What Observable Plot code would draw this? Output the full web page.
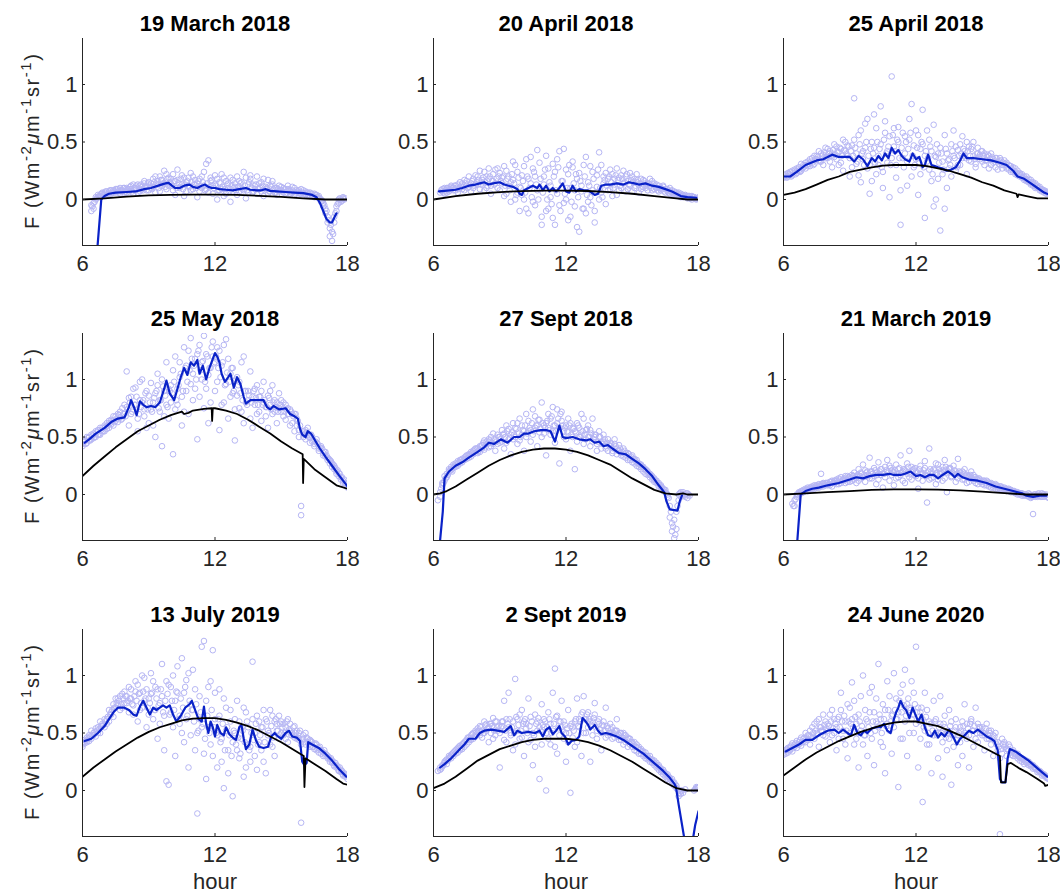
<!DOCTYPE html>
<html>
<head>
<meta charset="utf-8">
<script src="https://cdn.jsdelivr.net/npm/d3@7"></script>
<script src="https://cdn.jsdelivr.net/npm/@observablehq/plot@0.6"></script>
<style>
  body { margin: 0; background: #ffffff; }
  #figure { position: relative; width: 1060px; height: 896px; overflow: hidden; background: #ffffff; }
  #figure svg { position: absolute; background: transparent; }
</style>
</head>
<body>
<div id="figure"></div>
<script>
// Panel titles (one per day), in reading order
const panelTitles = [
  "19 March 2018", "20 April 2018", "25 April 2018",
  "25 May 2018", "27 Sept 2018", "21 March 2019",
  "13 July 2019", "2 Sept 2019", "24 June 2020"
];

const xTicks = [6, 12, 18];
const yTicks = [0, 0.5, 1];
const xDomain = [6, 18];
const yDomain = [-0.4, 1.4];

// y-axis label pieces: [text, superscript?, italic?]
const yLabelParts = [["F (Wm", false, false], ["-2", true, false], ["\u03bc", false, true], ["m", false, false],
  ["-1", true, false], ["sr", false, false], ["-1", true, false], [")", false, false]];

// Sample hours for the first two sample sets
const scatterHours = [
  6.0, 6.1, 6.2, 6.3, 6.4, 6.5, 6.6, 6.7, 6.8, 6.9,
  7.0, 7.1, 7.2, 7.3, 7.4, 7.5, 7.6, 7.7, 7.8, 7.9,
  8.0, 8.1, 8.2, 8.3, 8.4, 8.5, 8.6, 8.7, 8.8, 8.9,
  9.0, 9.1, 9.2, 9.3, 9.4, 9.5, 9.6, 9.7, 9.8, 9.9,
  10.0, 10.1, 10.2, 10.3, 10.4, 10.5, 10.6, 10.7, 10.8, 10.9,
  11.0, 11.1, 11.2, 11.3, 11.4, 11.5, 11.6, 11.7, 11.8, 11.9,
  12.0, 12.1, 12.2, 12.3, 12.4, 12.5, 12.6, 12.7, 12.8, 12.9,
  13.0, 13.1, 13.2, 13.3, 13.4, 13.5, 13.6, 13.7, 13.8, 13.9,
  14.0, 14.1, 14.2, 14.3, 14.4, 14.5, 14.6, 14.7, 14.8, 14.9,
  15.0, 15.1, 15.2, 15.3, 15.4, 15.5, 15.6, 15.7, 15.8, 15.9,
  16.0, 16.1, 16.2, 16.3, 16.4, 16.5, 16.6, 16.7, 16.8, 16.9,
  17.0, 17.1, 17.2, 17.3, 17.4, 17.5, 17.6, 17.7, 17.8, 17.9,
  18.0
];

// Sample hours for the third sample set (between the others)
const scatterHoursC = [
  6.05, 6.15, 6.25, 6.35, 6.45, 6.55, 6.65, 6.75, 6.85, 6.95,
  7.05, 7.15, 7.25, 7.35, 7.45, 7.55, 7.65, 7.75, 7.85, 7.95,
  8.05, 8.15, 8.25, 8.35, 8.45, 8.55, 8.65, 8.75, 8.85, 8.95,
  9.05, 9.15, 9.25, 9.35, 9.45, 9.55, 9.65, 9.75, 9.85, 9.95,
  10.05, 10.15, 10.25, 10.35, 10.45, 10.55, 10.65, 10.75, 10.85, 10.95,
  11.05, 11.15, 11.25, 11.35, 11.45, 11.55, 11.65, 11.75, 11.85, 11.95,
  12.05, 12.15, 12.25, 12.35, 12.45, 12.55, 12.65, 12.75, 12.85, 12.95,
  13.05, 13.15, 13.25, 13.35, 13.45, 13.55, 13.65, 13.75, 13.85, 13.95,
  14.05, 14.15, 14.25, 14.35, 14.45, 14.55, 14.65, 14.75, 14.85, 14.95,
  15.05, 15.15, 15.25, 15.35, 15.45, 15.55, 15.65, 15.75, 15.85, 15.95,
  16.05, 16.15, 16.25, 16.35, 16.45, 16.55, 16.65, 16.75, 16.85, 16.95,
  17.05, 17.15, 17.25, 17.35, 17.45, 17.55, 17.65, 17.75, 17.85, 17.95
];

// Retrieved F samples, first set (one array per panel, aligned with scatterHours)
const scatterA = [
  [null,null,null,null,-0.05,-0.08,0.0,0.02,0.03,0.05,
   0.06,0.04,0.07,0.05,0.08,0.06,0.09,0.05,0.07,0.1,
   0.06,0.09,0.12,0.05,0.1,0.13,0.07,0.11,0.14,0.08,
   0.15,0.1,0.18,0.06,0.16,0.2,0.12,0.25,0.09,0.19,
   0.14,0.22,0.04,0.17,0.11,0.21,0.03,0.15,0.19,0.08,
   0.2,0.13,0.02,0.18,0.1,0.24,0.31,0.06,0.16,0.12,
   0.21,0.0,0.15,0.09,0.19,0.05,0.14,-0.02,0.17,0.11,
   0.2,0.07,0.15,0.24,0.01,0.13,0.18,0.06,0.12,0.2,
   0.09,0.15,0.03,0.11,0.17,0.07,0.13,0.1,0.04,0.12,
   0.08,0.1,0.05,0.09,0.07,0.11,0.04,0.08,0.06,0.09,
   0.05,0.07,0.04,0.06,0.03,0.05,0.02,0.03,0.0,-0.03,
   -0.08,-0.15,-0.25,-0.36,-0.2,-0.1,-0.03,0.0,0.01,null,
   null],
  [null,null,null,0.06,0.09,0.05,0.1,0.07,0.11,0.08,
   0.12,0.06,0.1,0.14,0.08,0.16,0.11,0.07,0.18,0.13,
   0.2,0.09,0.15,0.24,0.1,0.18,0.05,0.22,0.14,0.27,
   0.08,0.19,0.03,0.25,0.12,-0.02,0.17,0.3,0.06,-0.1,
   0.21,0.0,0.35,-0.12,0.14,0.27,-0.05,0.43,0.09,-0.15,
   0.2,0.38,-0.08,0.12,0.31,-0.22,0.05,0.42,0.16,-0.03,
   0.26,-0.18,0.1,0.33,-0.06,0.18,-0.28,0.07,0.3,-0.12,
   0.15,0.02,0.24,-0.2,0.11,0.41,0.06,0.2,-0.04,0.18,
   0.09,0.22,0.13,0.04,0.19,0.1,0.25,0.07,0.16,0.12,
   0.2,0.1,0.15,0.06,0.18,0.11,0.14,0.08,0.12,0.16,
   0.09,0.13,0.07,0.1,0.12,0.06,0.09,0.05,0.08,0.04,
   0.06,0.03,0.05,0.02,0.04,0.01,0.03,0.0,0.02,0.01,
   0.02],
  [0.19,0.22,0.2,0.24,0.21,0.26,0.23,0.28,0.25,0.3,
   0.27,0.33,0.29,0.36,0.31,0.38,0.34,0.4,0.3,0.45,
   0.36,0.42,0.28,0.48,0.35,0.3,0.44,0.25,0.5,0.38,
   0.2,0.47,0.88,0.31,0.56,0.15,0.42,0.66,0.27,0.05,
   0.5,0.74,0.22,0.38,0.81,0.1,0.58,0.32,0.02,1.07,
   0.46,0.19,0.63,-0.22,0.36,0.55,0.12,0.7,0.83,0.28,
   0.6,0.04,0.44,0.78,-0.16,0.33,0.52,0.16,0.65,0.0,
   0.4,-0.27,0.22,0.56,0.1,0.35,0.48,0.6,0.25,0.43,
   0.3,0.55,0.38,0.22,0.46,0.33,0.5,0.28,0.4,0.35,
   0.42,0.3,0.37,0.27,0.4,0.32,0.36,0.26,0.33,0.3,
   0.34,0.27,0.3,0.24,0.28,0.22,0.25,0.2,0.22,0.17,
   0.2,0.15,0.17,0.12,0.14,0.1,0.11,0.07,0.08,0.05,
   0.05],
  [0.44,0.47,0.45,0.5,0.48,0.53,0.5,0.56,0.52,0.58,
   0.55,0.62,0.58,0.65,0.6,0.68,0.63,0.72,0.66,0.78,
   1.07,0.6,0.85,0.74,0.93,0.55,0.82,1.0,0.68,0.9,
   0.62,0.97,0.8,0.5,1.05,0.72,0.42,0.9,1.15,0.66,
   0.95,0.35,1.2,0.78,1.02,0.6,1.28,0.9,0.7,1.36,
   0.82,1.18,0.48,1.3,1.0,0.75,1.22,0.62,1.1,1.33,
   0.9,1.28,0.56,1.12,0.8,1.35,0.66,1.05,0.88,0.47,
   1.02,0.75,1.15,0.62,0.9,0.82,1.07,0.58,0.92,0.7,
   0.85,0.64,0.98,0.76,0.58,0.9,0.7,0.82,0.62,0.88,
   0.72,0.8,0.65,0.75,0.6,0.7,0.55,0.66,0.5,-0.1,
   0.55,0.48,0.58,0.5,0.46,0.44,0.48,0.4,0.42,0.36,
   0.37,0.32,0.3,0.27,0.25,0.2,0.19,0.15,0.12,0.1,
   0.06],
  [null,null,-0.05,0.02,0.08,0.12,0.18,0.2,0.24,0.23,
   0.27,0.25,0.3,0.28,0.32,0.31,0.35,0.33,0.38,0.36,
   0.4,0.37,0.43,0.39,0.46,0.41,0.5,0.44,0.38,0.52,
   0.45,0.56,0.4,0.6,0.48,0.35,0.62,0.5,0.44,0.66,
   0.52,0.38,0.7,0.55,0.46,0.74,0.58,0.42,0.65,0.5,
   0.6,0.34,0.7,0.52,0.76,0.45,0.62,0.27,0.72,0.55,
   0.48,0.66,0.38,0.58,0.22,0.62,0.5,0.7,0.44,0.56,
   0.6,0.42,0.66,0.5,0.38,0.55,0.46,0.52,0.4,0.48,
   0.45,0.36,0.48,0.4,0.43,0.34,0.4,0.32,0.36,0.3,
   0.34,0.27,0.3,0.24,0.26,0.2,0.22,0.17,0.18,0.13,
   0.14,0.1,0.1,0.06,0.05,0.02,-0.02,-0.1,-0.25,-0.38,
   -0.3,-0.05,0.02,0.0,-0.02,0.01,-0.01,null,null,null,
   null],
  [null,null,null,null,-0.08,-0.05,-0.02,0.02,0.01,0.04,
   0.03,0.06,0.04,0.07,0.05,0.08,0.06,0.18,0.07,0.1,
   0.08,0.11,0.07,0.12,0.09,0.14,0.1,0.13,0.16,0.11,
   0.15,0.12,0.19,0.1,0.22,0.14,0.26,0.11,0.2,0.32,
   0.14,0.23,0.09,0.28,0.17,0.06,0.24,0.3,0.12,0.21,
   0.08,0.26,0.15,0.34,0.2,0.1,0.27,0.38,0.13,0.22,
   0.16,0.05,0.25,0.18,0.29,-0.07,0.4,0.14,0.22,0.09,
   0.26,0.18,0.12,0.3,0.02,0.22,0.16,0.25,0.11,0.31,
   0.19,0.13,0.22,0.1,0.16,0.2,0.12,0.15,0.09,0.13,
   0.11,0.08,0.12,0.07,0.1,0.06,0.09,0.05,0.07,0.04,
   0.06,0.03,0.05,0.02,0.03,0.01,0.02,0.0,0.01,-0.01,
   0.0,-0.02,-0.01,-0.17,0.0,-0.02,-0.01,0.01,-0.02,0.0,
   -0.03],
  [0.4,0.44,0.42,0.48,0.45,0.5,0.47,0.55,0.5,0.58,
   0.55,0.62,0.6,0.68,0.64,0.72,0.8,0.7,0.84,0.76,
   0.82,0.68,0.88,0.74,0.95,0.6,0.85,0.72,0.98,0.55,
   0.8,1.02,0.62,0.9,0.45,0.76,1.1,0.35,0.08,0.92,
   0.68,1.0,0.3,0.85,0.58,1.15,0.42,0.96,0.2,0.75,
   1.05,0.35,-0.2,0.82,0.55,1.3,0.1,0.9,0.4,1.22,
   0.62,0.2,0.88,0.45,0.02,0.72,0.35,0.6,-0.05,0.5,
   0.78,0.28,0.55,0.12,0.68,0.4,0.25,1.12,0.5,0.18,
   0.6,0.35,0.7,0.15,0.52,0.4,0.65,0.3,0.58,0.45,
   0.6,0.48,0.55,0.42,0.58,0.5,0.46,0.52,0.44,-0.28,
   0.48,0.4,0.45,0.38,0.42,0.36,0.4,0.33,0.35,0.3,
   0.32,0.28,0.27,0.24,0.22,0.2,0.18,0.16,0.14,0.12,
   0.1],
  [null,null,0.17,0.2,0.22,0.25,0.27,0.3,0.28,0.33,
   0.32,0.37,0.35,0.4,0.38,0.44,0.42,0.48,0.45,0.52,
   0.5,0.56,0.46,0.6,0.52,0.42,0.58,0.63,0.48,0.55,
   0.2,0.6,0.78,0.42,0.85,0.5,0.35,0.97,0.62,0.45,
   0.7,0.3,0.58,0.8,0.44,0.22,0.66,0.52,0.1,0.75,
   0.55,0.0,0.68,0.4,0.85,1.06,0.32,0.6,0.78,0.45,
   0.25,0.7,-0.02,0.55,0.38,0.8,0.62,0.3,0.82,0.5,
   0.68,0.25,0.6,0.76,0.45,0.62,0.35,0.56,0.72,0.48,
   0.58,0.45,0.52,0.62,0.44,0.5,0.4,0.48,0.38,0.45,
   0.42,0.35,0.4,0.32,0.36,0.3,0.33,0.27,0.3,0.24,
   0.26,0.2,0.22,0.16,0.18,0.12,0.14,0.08,0.1,0.04,
   0.02,-0.05,0.0,-0.02,0.01,null,null,null,0.0,0.03,
   0.02],
  [0.31,0.35,0.33,0.38,0.34,0.4,0.37,0.42,0.39,0.45,
   0.42,0.48,0.4,0.55,0.45,0.6,0.38,0.52,0.66,0.47,
   0.58,0.42,0.7,0.5,0.35,0.64,0.85,0.45,0.6,0.28,
   0.72,0.94,0.4,0.58,0.2,0.82,1.0,0.48,0.3,0.68,
   0.9,0.22,0.6,1.1,0.42,0.75,0.15,0.95,0.52,0.32,
   1.02,0.62,0.03,0.85,0.45,1.05,0.3,0.72,0.95,0.5,
   1.25,0.2,0.68,-0.1,0.85,0.4,0.6,0.15,0.78,0.5,
   0.28,0.82,0.12,0.55,0.35,0.7,0.05,0.48,0.62,0.22,
   0.55,0.3,0.75,0.45,0.2,0.6,0.38,0.72,0.42,0.55,
   0.48,0.35,0.58,0.45,0.52,0.3,0.5,0.42,-0.38,0.45,
   0.38,0.3,0.35,0.33,0.3,0.32,0.28,0.29,0.25,0.27,
   0.24,0.25,0.21,0.22,0.19,0.18,0.16,0.15,0.13,0.12,
   0.1]
];

// Retrieved F samples, second set (aligned with scatterHours)
const scatterB = [
  [null,null,null,null,-0.1,-0.03,0.02,0.04,0.02,0.06,
   0.04,0.07,0.05,0.08,0.06,0.09,0.07,0.1,0.08,0.06,
   0.1,0.07,0.09,0.13,0.08,0.06,0.12,0.09,0.16,0.11,
   0.08,0.14,0.11,0.2,0.13,0.07,0.17,0.14,0.22,0.12,
   0.18,0.08,0.16,0.26,0.1,0.13,0.19,0.07,0.12,0.23,
   0.09,0.17,0.14,0.07,0.2,0.12,0.09,0.34,0.19,0.05,
   0.13,0.18,0.08,0.22,0.03,0.16,0.1,0.19,0.07,0.14,
   0.04,0.16,0.1,0.08,0.19,0.06,0.21,0.13,0.09,0.05,
   0.14,0.07,0.18,0.09,0.05,0.12,0.16,0.06,0.1,0.07,
   0.11,0.06,0.09,0.12,0.05,0.08,0.1,0.06,0.08,0.05,
   0.08,0.04,0.06,0.03,0.05,0.02,0.04,0.01,-0.02,-0.06,
   -0.12,-0.2,-0.32,-0.28,-0.15,-0.06,0.0,-0.02,0.02,0.01,
   null],
  [null,null,null,null,0.07,0.1,0.06,0.09,0.12,0.1,
   0.08,0.13,0.15,0.09,0.17,0.12,0.2,0.14,0.1,0.21,
   0.13,0.25,0.17,0.08,0.2,0.27,0.12,0.16,0.26,0.1,
   0.23,0.14,0.29,0.05,0.2,0.15,0.33,0.0,0.24,0.11,
   0.04,0.29,-0.08,0.18,0.37,-0.02,0.2,0.08,0.32,-0.22,
   0.13,-0.1,0.27,0.02,-0.16,0.24,0.35,-0.05,0.1,0.44,
   0.0,0.22,-0.15,0.28,0.08,-0.24,0.23,0.12,-0.08,0.37,
   -0.02,0.29,0.08,-0.1,0.21,0.0,0.3,0.14,0.23,0.08,
   0.26,0.03,0.18,0.27,0.08,0.21,0.14,0.2,0.09,0.23,
   0.07,0.18,0.22,0.13,0.09,0.17,0.1,0.13,0.18,0.08,
   0.14,0.1,0.12,0.08,0.11,0.09,0.07,0.1,0.06,0.07,
   0.04,0.06,0.02,0.04,0.03,0.02,0.01,0.03,0.02,0.0,
   null],
  [null,0.2,0.23,0.21,0.25,0.23,0.27,0.25,0.31,0.28,
   0.32,0.29,0.35,0.32,0.38,0.35,0.42,0.33,0.39,0.36,
   0.44,0.33,0.4,0.37,0.46,0.41,0.32,0.52,0.42,0.47,
   0.36,0.28,0.52,0.4,0.21,0.6,0.35,0.45,0.7,0.3,
   0.16,0.45,0.62,0.3,0.48,0.24,0.68,0.42,0.55,0.36,
   0.62,0.3,0.5,0.08,0.58,0.4,0.33,0.52,0.2,0.47,
   0.35,0.56,0.22,0.48,0.38,0.6,0.26,0.42,-0.06,0.37,
   0.18,0.45,0.33,-0.08,0.4,0.27,0.2,0.38,0.46,0.3,
   0.48,0.36,0.42,0.5,0.34,0.44,0.38,0.31,0.45,0.39,
   0.33,0.4,0.34,0.38,0.3,0.35,0.28,0.33,0.36,0.27,
   0.3,0.32,0.26,0.29,0.24,0.27,0.21,0.23,0.19,0.2,
   0.16,0.18,0.13,0.15,0.1,0.12,0.08,0.09,0.06,0.07,
   null],
  [0.42,0.46,0.5,0.47,0.52,0.49,0.55,0.52,0.58,0.55,
   0.6,0.57,0.64,0.61,0.68,0.64,0.7,0.67,0.75,0.7,
   0.76,0.84,0.7,0.92,0.78,0.66,0.98,0.8,0.74,0.58,
   0.86,0.74,0.6,0.88,0.95,0.82,1.0,0.68,0.78,0.92,
   0.8,1.08,0.74,0.92,1.15,0.85,0.72,1.12,1.25,0.96,
   1.05,0.92,1.22,0.85,1.15,1.38,0.92,1.04,0.8,1.2,
   1.15,0.98,1.25,0.78,1.3,0.96,1.18,0.85,1.1,0.74,
   0.86,0.98,0.72,1.2,0.8,0.9,0.66,0.85,0.78,0.95,
   0.72,0.9,0.8,0.68,0.86,0.78,0.95,0.72,0.8,0.75,
   0.82,0.68,0.78,0.7,0.74,0.62,0.7,0.6,0.56,-0.18,
   0.5,0.56,0.52,0.45,0.5,0.42,0.45,0.38,0.4,0.34,
   0.33,0.3,0.27,0.24,0.22,0.18,0.16,0.13,0.1,0.08,
   null],
  [null,null,null,-0.02,0.1,0.16,0.15,0.22,0.21,0.26,
   0.24,0.29,0.27,0.31,0.3,0.34,0.32,0.37,0.35,0.4,
   0.36,0.42,0.4,0.47,0.44,0.48,0.42,0.53,0.47,0.44,
   0.5,0.46,0.53,0.45,0.57,0.52,0.48,0.58,0.62,0.47,
   0.6,0.55,0.5,0.64,0.56,0.52,0.68,0.6,0.54,0.8,
   0.53,0.62,0.58,0.66,0.55,0.6,0.74,0.58,0.64,0.5,
   0.6,0.54,0.62,0.5,0.55,0.46,0.58,0.52,0.66,0.48,
   0.5,0.56,0.46,0.52,0.44,0.5,0.4,0.46,0.42,0.38,
   0.42,0.38,0.44,0.35,0.38,0.36,0.33,0.36,0.3,0.32,
   0.28,0.31,0.25,0.27,0.22,0.24,0.18,0.2,0.15,0.16,
   0.11,0.12,0.07,0.08,0.03,0.04,0.0,-0.2,-0.32,-0.22,
   -0.15,0.0,-0.02,0.02,0.0,-0.03,null,null,null,null,
   null],
  [null,null,null,null,null,-0.1,0.0,0.01,0.03,0.02,
   0.05,0.03,0.06,0.05,0.08,0.06,0.09,0.07,0.1,0.08,
   0.1,0.08,0.12,0.1,0.13,0.09,0.15,0.12,0.1,0.16,
   0.11,0.17,0.13,0.16,0.12,0.19,0.15,0.21,0.17,0.14,
   0.2,0.16,0.19,0.13,0.22,0.18,0.15,0.2,0.25,0.17,
   0.19,0.14,0.22,0.17,0.12,0.21,0.18,0.15,0.24,0.17,
   0.2,0.14,0.19,0.12,0.23,0.16,0.13,0.2,0.15,0.27,
   0.13,0.2,0.24,0.14,0.19,0.23,0.15,0.18,0.2,0.14,
   0.16,0.2,0.13,0.17,0.11,0.14,0.17,0.1,0.13,0.11,
   0.09,0.12,0.08,0.1,0.06,0.08,0.05,0.07,0.05,0.06,
   0.04,0.05,0.03,0.04,0.02,0.02,0.0,0.01,-0.01,0.0,
   -0.01,0.01,-0.03,-0.01,-0.02,0.0,-0.01,-0.02,0.0,null,
   null],
  [0.38,0.41,0.46,0.43,0.52,0.48,0.54,0.5,0.6,0.56,
   0.62,0.58,0.7,0.66,0.75,0.8,0.74,0.82,0.72,0.86,
   0.76,0.9,0.8,0.66,0.86,0.92,0.7,1.0,0.78,0.88,
   0.66,0.84,0.95,0.7,0.88,0.58,0.82,0.65,0.95,0.05,
   0.9,0.55,0.78,1.08,0.65,0.5,0.85,0.62,1.02,0.48,
   0.7,0.88,0.5,0.62,1.25,0.32,0.78,0.55,0.95,0.3,
   0.85,0.48,0.65,0.25,0.8,0.52,0.15,0.7,0.42,0.62,
   0.35,0.6,0.45,0.72,0.2,0.55,0.38,0.62,0.3,0.65,
   0.42,0.55,0.25,0.62,0.48,0.7,0.38,0.6,0.52,0.65,
   0.5,0.58,0.45,0.62,0.52,0.48,0.56,0.45,0.5,0.4,
   0.45,0.5,0.42,0.44,0.38,0.4,0.35,0.37,0.32,0.33,
   0.3,0.3,0.25,0.26,0.21,0.22,0.17,0.18,0.13,0.14,
   null],
  [null,null,null,0.18,0.21,0.24,0.23,0.28,0.31,0.3,
   0.35,0.33,0.39,0.36,0.42,0.4,0.46,0.44,0.5,0.47,
   0.54,0.48,0.52,0.5,0.58,0.55,0.5,0.45,0.6,0.52,
   0.5,0.56,0.44,0.62,0.55,0.48,0.6,0.4,0.52,0.66,
   0.46,0.6,0.54,0.42,0.64,0.5,0.38,0.6,0.55,0.4,
   0.62,0.5,0.45,0.58,0.52,0.38,0.65,0.48,0.55,0.6,
   0.5,0.42,0.56,0.46,0.6,0.42,0.55,0.66,0.5,0.62,
   0.55,0.6,0.48,0.66,0.52,0.58,0.5,0.6,0.46,0.54,
   0.5,0.55,0.46,0.52,0.48,0.44,0.5,0.42,0.46,0.4,
   0.38,0.42,0.34,0.38,0.32,0.34,0.28,0.3,0.25,0.27,
   0.22,0.24,0.18,0.19,0.14,0.15,0.1,0.11,0.06,0.07,
   0.04,0.0,-0.03,null,null,null,null,null,null,0.02,
   0.03],
  [0.34,0.32,0.37,0.35,0.41,0.38,0.43,0.4,0.46,0.42,
   0.5,0.44,0.52,0.46,0.58,0.5,0.62,0.55,0.48,0.6,
   0.52,0.66,0.48,0.62,0.55,0.45,0.7,0.52,0.4,0.75,
   0.5,0.62,0.78,0.45,0.66,0.52,0.4,0.7,0.6,0.85,
   0.45,0.68,0.8,0.55,0.62,0.38,0.7,0.58,0.82,0.65,
   0.55,0.8,0.68,0.45,0.92,0.6,0.75,0.5,0.62,0.85,
   0.58,0.72,0.45,0.62,0.52,0.7,0.4,0.58,0.48,0.62,
   0.5,0.58,0.42,0.65,0.5,0.45,0.6,0.38,0.55,0.48,
   0.42,0.6,0.5,0.58,0.48,0.62,0.52,0.45,0.58,0.5,
   0.55,0.48,0.45,0.52,0.4,0.48,0.42,0.35,0.28,0.32,
   0.42,0.36,0.4,0.31,0.35,0.3,0.32,0.26,0.28,0.23,
   0.26,0.22,0.23,0.19,0.2,0.16,0.17,0.13,0.14,0.11,
   null]
];

// Retrieved F samples, third set (aligned with scatterHoursC)
const scatterC = [
  [null,null,null,null,-0.06,-0.02,0.01,0.03,0.05,0.04,
   0.07,0.05,0.08,0.06,0.07,0.09,0.06,0.08,0.1,0.07,
   0.09,0.11,0.07,0.1,0.12,0.09,0.13,0.08,0.11,0.14,
   0.12,0.09,0.15,0.13,0.1,0.17,0.14,0.11,0.18,0.15,
   0.12,0.16,0.1,0.14,0.18,0.09,0.13,0.16,0.11,0.15,
   0.13,0.1,0.16,0.12,0.15,0.08,0.14,0.11,0.17,0.1,
   0.12,0.08,0.14,0.11,0.09,0.13,0.07,0.12,0.1,0.08,
   0.11,0.14,0.09,0.12,0.08,0.15,0.1,0.07,0.13,0.09,
   0.1,0.12,0.08,0.1,0.07,0.11,0.09,0.06,0.09,0.08,
   0.07,0.09,0.06,0.08,0.06,0.07,0.05,0.07,0.05,0.06,
   0.05,0.06,0.04,0.05,0.03,0.04,0.02,0.01,-0.01,-0.05,
   -0.1,-0.18,-0.22,-0.3,-0.12,-0.04,0.01,-0.01,0.0,null],
  [null,null,null,0.08,0.06,0.08,0.1,0.08,0.1,0.12,
   0.1,0.09,0.12,0.11,0.14,0.1,0.13,0.16,0.12,0.15,
   0.17,0.13,0.19,0.15,0.12,0.2,0.16,0.13,0.18,0.2,
   0.16,0.2,0.12,0.18,0.08,0.22,0.14,0.04,0.19,0.1,
   0.16,0.06,0.2,0.1,0.02,0.24,0.13,0.0,0.18,0.06,
   0.26,0.0,0.15,-0.04,0.2,0.08,0.28,-0.1,0.16,0.05,
   0.1,0.3,-0.02,0.14,0.22,0.02,0.16,-0.08,0.2,0.04,
   0.12,-0.05,0.18,0.06,0.26,0.1,0.02,0.17,0.12,0.2,
   0.15,0.1,0.21,0.17,0.12,0.18,0.15,0.22,0.13,0.17,
   0.15,0.12,0.17,0.14,0.11,0.16,0.12,0.14,0.1,0.13,
   0.11,0.08,0.1,0.09,0.07,0.09,0.06,0.07,0.05,0.06,
   0.05,0.04,0.03,0.03,0.02,0.03,0.01,0.02,0.01,0.01],
  [0.21,0.19,0.22,0.2,0.24,0.22,0.26,0.24,0.27,0.29,
   0.3,0.31,0.33,0.3,0.35,0.37,0.33,0.38,0.41,0.37,
   0.4,0.38,0.43,0.39,0.42,0.45,0.38,0.43,0.4,0.46,
   0.42,0.38,0.45,0.33,0.48,0.4,0.3,0.5,0.38,0.44,
   0.4,0.32,0.5,0.44,0.28,0.52,0.4,0.46,0.3,0.56,
   0.42,0.52,0.36,0.45,0.28,0.5,0.44,0.58,0.38,0.3,
   0.45,0.32,0.5,0.28,0.42,0.36,0.46,0.22,0.38,0.48,
   0.32,0.4,0.26,0.44,0.34,0.3,0.42,0.36,0.28,0.38,
   0.4,0.44,0.36,0.42,0.38,0.46,0.35,0.4,0.37,0.42,
   0.38,0.34,0.39,0.35,0.37,0.33,0.36,0.31,0.34,0.32,
   0.31,0.28,0.29,0.26,0.25,0.23,0.22,0.21,0.19,0.18,
   0.17,0.15,0.14,0.13,0.11,0.1,0.09,0.08,0.07,0.06],
  [0.46,0.44,0.49,0.47,0.51,0.5,0.54,0.52,0.56,0.55,
   0.59,0.6,0.62,0.64,0.63,0.66,0.69,0.65,0.7,0.68,
   0.74,0.8,0.72,0.78,0.85,0.7,0.76,0.82,0.88,0.74,
   0.8,0.72,0.84,0.9,0.75,0.82,0.94,0.86,0.76,0.9,
   0.88,0.98,0.82,0.95,1.05,0.9,1.1,0.98,1.08,1.18,
   1.12,1.0,1.25,1.08,1.16,0.98,1.2,1.1,1.28,1.14,
   1.2,1.1,1.02,1.15,0.95,1.06,0.98,1.1,0.9,1.0,
   0.95,0.88,0.82,0.9,0.78,0.86,0.8,0.9,0.84,0.78,
   0.85,0.78,0.82,0.76,0.84,0.74,0.8,0.76,0.72,0.78,
   0.76,0.72,0.74,0.7,0.72,0.68,0.7,0.64,0.6,0.55,
   0.52,0.54,0.5,0.52,0.47,0.46,0.44,0.41,0.4,0.37,
   0.34,0.31,0.29,0.26,0.23,0.21,0.18,0.15,0.13,0.09],
  [null,null,null,0.05,0.1,0.14,0.17,0.21,0.2,0.25,
   0.26,0.28,0.3,0.3,0.33,0.34,0.35,0.36,0.39,0.4,
   0.38,0.42,0.45,0.41,0.44,0.47,0.45,0.48,0.46,0.5,
   0.48,0.52,0.5,0.55,0.49,0.54,0.52,0.57,0.53,0.5,
   0.56,0.6,0.53,0.58,0.62,0.55,0.6,0.65,0.57,0.62,
   0.58,0.64,0.56,0.68,0.6,0.55,0.66,0.7,0.6,0.58,
   0.55,0.6,0.52,0.57,0.54,0.6,0.5,0.55,0.52,0.57,
   0.5,0.53,0.48,0.52,0.46,0.5,0.44,0.48,0.45,0.43,
   0.44,0.4,0.42,0.38,0.4,0.37,0.38,0.34,0.35,0.33,
   0.31,0.29,0.27,0.26,0.24,0.22,0.21,0.18,0.17,0.14,
   0.12,0.1,0.08,0.06,0.04,0.01,-0.03,-0.15,-0.28,-0.35,
   -0.1,0.01,0.0,-0.01,0.01,0.0,null,null,null,null],
  [null,null,null,null,-0.1,-0.04,0.0,0.02,0.03,0.03,
   0.04,0.05,0.06,0.06,0.07,0.07,0.08,0.09,0.09,0.1,
   0.09,0.11,0.1,0.12,0.11,0.13,0.12,0.14,0.13,0.15,
   0.14,0.16,0.15,0.17,0.16,0.18,0.17,0.19,0.16,0.2,
   0.18,0.21,0.17,0.2,0.22,0.18,0.21,0.19,0.23,0.2,
   0.21,0.18,0.23,0.19,0.22,0.2,0.24,0.18,0.21,0.23,
   0.19,0.22,0.18,0.21,0.17,0.2,0.22,0.18,0.21,0.19,
   0.22,0.19,0.21,0.24,0.2,0.23,0.19,0.21,0.18,0.2,
   0.17,0.19,0.16,0.15,0.17,0.14,0.15,0.13,0.14,0.12,
   0.12,0.1,0.11,0.09,0.09,0.08,0.08,0.06,0.07,0.05,
   0.05,0.04,0.04,0.03,0.03,0.02,0.01,0.01,0.0,0.0,
   -0.01,0.0,-0.02,0.0,-0.01,0.01,-0.02,0.0,-0.01,-0.02],
  [0.42,0.43,0.45,0.47,0.48,0.51,0.52,0.53,0.56,0.57,
   0.6,0.64,0.66,0.7,0.72,0.76,0.78,0.75,0.8,0.82,
   0.78,0.8,0.75,0.82,0.78,0.84,0.76,0.86,0.8,0.72,
   0.76,0.85,0.7,0.8,0.74,0.88,0.68,0.78,0.84,0.66,
   0.78,0.7,0.86,0.62,0.8,0.72,0.9,0.65,0.78,0.7,
   0.6,0.75,0.52,0.68,0.58,0.45,0.65,0.5,0.7,0.55,
   0.5,0.62,0.42,0.58,0.35,0.55,0.48,0.3,0.52,0.4,
   0.46,0.32,0.52,0.42,0.6,0.35,0.5,0.44,0.58,0.4,
   0.48,0.55,0.42,0.6,0.5,0.56,0.46,0.62,0.52,0.58,
   0.55,0.5,0.6,0.53,0.48,0.55,0.5,0.46,0.52,0.45,
   0.42,0.46,0.4,0.43,0.38,0.41,0.36,0.38,0.34,0.35,
   0.31,0.29,0.28,0.25,0.24,0.21,0.2,0.17,0.15,0.13],
  [null,null,null,0.19,0.22,0.26,0.26,0.29,0.32,0.34,
   0.36,0.38,0.37,0.41,0.43,0.46,0.45,0.49,0.47,0.51,
   0.52,0.55,0.5,0.57,0.54,0.58,0.56,0.52,0.6,0.56,
   0.55,0.6,0.52,0.58,0.62,0.55,0.5,0.64,0.57,0.52,
   0.58,0.62,0.5,0.56,0.6,0.48,0.58,0.63,0.52,0.57,
   0.6,0.55,0.62,0.5,0.58,0.64,0.54,0.6,0.52,0.57,
   0.54,0.5,0.58,0.52,0.62,0.56,0.6,0.68,0.62,0.66,
   0.62,0.57,0.63,0.55,0.6,0.53,0.57,0.52,0.56,0.5,
   0.53,0.5,0.52,0.47,0.5,0.46,0.48,0.44,0.45,0.42,
   0.4,0.38,0.37,0.35,0.34,0.31,0.3,0.28,0.27,0.25,
   0.23,0.21,0.2,0.17,0.16,0.13,0.12,0.09,0.07,0.05,
   0.01,-0.02,0.0,null,null,null,null,null,0.01,0.02],
  [0.33,0.36,0.35,0.39,0.37,0.41,0.4,0.44,0.42,0.46,
   0.45,0.48,0.47,0.5,0.52,0.49,0.55,0.52,0.57,0.54,
   0.56,0.6,0.54,0.58,0.62,0.55,0.6,0.65,0.52,0.6,
   0.58,0.55,0.64,0.5,0.6,0.56,0.48,0.62,0.55,0.5,
   0.6,0.52,0.58,0.66,0.5,0.62,0.56,0.7,0.6,0.66,
   0.7,0.62,0.78,0.68,0.74,0.65,0.8,0.7,0.66,0.75,
   0.68,0.6,0.72,0.55,0.64,0.5,0.58,0.52,0.6,0.48,
   0.55,0.5,0.58,0.46,0.52,0.56,0.48,0.52,0.44,0.5,
   0.52,0.56,0.48,0.54,0.58,0.52,0.56,0.5,0.55,0.52,
   0.5,0.54,0.48,0.5,0.45,0.47,0.4,0.38,0.36,0.4,
   0.4,0.36,0.38,0.34,0.33,0.31,0.3,0.28,0.27,0.25,
   0.25,0.23,0.22,0.2,0.19,0.17,0.16,0.14,0.13,0.11]
];

// Smoothed retrieval (blue), [hour, F] per panel
const smoothedF = [
  [[6.6,-0.6],[6.85,0.0],[7.0,0.03],[7.2,0.05],[7.5,0.06],[8.0,0.065],[8.4,0.07],[8.8,0.09],[9.1,0.1],[9.5,0.125],
   [9.75,0.14],[9.9,0.145],[10.05,0.12],[10.2,0.1],[10.4,0.1],[10.6,0.12],[10.85,0.13],[11.0,0.11],[11.2,0.1],[11.4,0.12],
   [11.55,0.13],[11.7,0.11],[11.85,0.1],[12.0,0.1],[12.2,0.09],[12.5,0.085],[12.8,0.08],[13.1,0.09],[13.4,0.1],[13.6,0.085],
   [13.9,0.08],[14.1,0.08],[14.3,0.09],[14.5,0.075],[14.8,0.07],[15.2,0.065],[15.6,0.06],[16.0,0.055],[16.4,0.04],[16.6,0.02],
   [16.75,-0.03],[16.9,-0.1],[17.05,-0.17],[17.2,-0.2],[17.3,-0.2],[17.42,-0.15],[17.5,-0.12]],
  [[6.25,0.07],[6.5,0.075],[7.0,0.085],[7.3,0.1],[7.6,0.12],[7.9,0.13],[8.1,0.14],[8.3,0.15],[8.5,0.13],[8.7,0.14],
   [9.0,0.15],[9.2,0.13],[9.4,0.12],[9.6,0.11],[9.8,0.09],[9.9,0.05],[10.0,0.04],[10.1,0.08],[10.3,0.1],[10.5,0.12],
   [10.7,0.1],[10.8,0.13],[10.95,0.08],[11.1,0.12],[11.25,0.07],[11.4,0.1],[11.55,0.07],[11.7,0.1],[11.85,0.14],[12.0,0.07],
   [12.15,0.06],[12.3,0.12],[12.45,0.07],[12.6,0.09],[12.8,0.08],[13.0,0.08],[13.15,0.06],[13.3,0.04],[13.45,0.05],[13.6,0.12],
   [13.8,0.13],[14.0,0.13],[14.3,0.14],[14.6,0.13],[14.85,0.15],[15.1,0.14],[15.3,0.13],[15.6,0.14],[15.9,0.12],[16.2,0.11],
   [16.5,0.09],[16.8,0.07],[17.0,0.05],[17.2,0.03],[17.5,0.02],[17.9,0.015]],
  [[6.0,0.2],[6.3,0.2],[6.6,0.24],[7.0,0.3],[7.5,0.34],[7.8,0.35],[8.0,0.37],[8.2,0.39],[8.5,0.37],[8.8,0.37],
   [9.0,0.37],[9.2,0.33],[9.4,0.38],[9.6,0.35],[9.8,0.29],[10.0,0.36],[10.15,0.33],[10.3,0.38],[10.45,0.34],[10.6,0.4],
   [10.75,0.36],[10.9,0.45],[11.05,0.4],[11.2,0.43],[11.35,0.38],[11.5,0.35],[11.7,0.33],[11.85,0.4],[12.0,0.35],[12.15,0.37],
   [12.3,0.28],[12.4,0.3],[12.55,0.39],[12.7,0.3],[12.85,0.29],[13.0,0.28],[13.2,0.27],[13.4,0.25],[13.6,0.26],[13.8,0.28],
   [14.0,0.34],[14.15,0.4],[14.3,0.36],[14.6,0.36],[15.0,0.35],[15.4,0.34],[15.8,0.32],[16.1,0.3],[16.4,0.25],[16.6,0.2],
   [16.9,0.18],[17.2,0.14],[17.5,0.1],[17.8,0.06],[18.0,0.045]],
  [[6.1,0.45],[6.3,0.48],[6.6,0.53],[7.0,0.58],[7.3,0.63],[7.6,0.66],[7.9,0.67],[8.1,0.76],[8.2,0.82],[8.35,0.75],
   [8.45,0.69],[8.6,0.81],[8.75,0.78],[8.9,0.76],[9.1,0.77],[9.3,0.76],[9.5,0.8],[9.7,0.92],[9.8,0.99],[9.95,0.88],
   [10.15,0.82],[10.3,0.92],[10.45,1.02],[10.6,1.1],[10.75,1.04],[10.9,1.15],[11.05,1.12],[11.2,1.17],[11.3,1.05],[11.45,1.12],
   [11.6,1.0],[11.75,1.1],[11.9,1.18],[12.0,1.23],[12.1,1.2],[12.2,1.15],[12.3,1.05],[12.45,0.98],[12.6,1.02],[12.7,1.05],
   [12.85,0.93],[13.0,1.02],[13.15,0.96],[13.3,0.85],[13.4,0.79],[13.6,0.82],[13.9,0.82],[14.2,0.82],[14.35,0.76],[14.5,0.74],
   [14.65,0.77],[14.9,0.74],[15.2,0.75],[15.4,0.7],[15.6,0.68],[15.75,0.66],[15.85,0.57],[15.95,0.52],[16.1,0.5],[16.2,0.55],
   [16.35,0.53],[16.5,0.48],[16.75,0.4],[17.0,0.33],[17.3,0.25],[17.6,0.17],[17.8,0.12],[18.0,0.07]],
  [[6.2,-0.6],[6.42,-0.15],[6.5,0.14],[6.7,0.2],[7.0,0.25],[7.3,0.28],[7.6,0.32],[8.0,0.37],[8.3,0.41],[8.5,0.45],
   [8.75,0.44],[9.05,0.48],[9.35,0.45],[9.65,0.5],[9.9,0.5],[10.1,0.53],[10.3,0.53],[10.56,0.55],[10.86,0.56],[11.1,0.56],
   [11.3,0.55],[11.5,0.46],[11.7,0.6],[11.85,0.5],[12.0,0.49],[12.3,0.5],[12.6,0.48],[12.9,0.47],[13.1,0.48],[13.3,0.45],
   [13.5,0.46],[13.7,0.42],[13.9,0.43],[14.1,0.4],[14.4,0.36],[14.7,0.35],[15.0,0.31],[15.3,0.27],[15.6,0.22],[15.9,0.16],
   [16.2,0.08],[16.45,0.02],[16.55,-0.06],[16.7,-0.13],[17.05,-0.14],[17.15,-0.06],[17.25,-0.01]],
  [[6.55,-0.6],[6.78,0.0],[7.0,0.03],[7.3,0.05],[7.6,0.06],[8.0,0.08],[8.5,0.1],[9.0,0.13],[9.3,0.15],[9.6,0.14],
   [9.9,0.16],[10.2,0.17],[10.5,0.17],[10.8,0.18],[11.0,0.17],[11.3,0.17],[11.5,0.18],[11.75,0.2],[12.0,0.16],[12.2,0.17],
   [12.4,0.15],[12.6,0.17],[12.8,0.17],[13.0,0.14],[13.2,0.17],[13.45,0.2],[13.6,0.18],[13.75,0.15],[13.9,0.18],[14.1,0.15],
   [14.4,0.13],[14.8,0.12],[15.2,0.1],[15.6,0.07],[16.0,0.05],[16.4,0.03],[16.8,0.01],[17.0,-0.01],[17.3,-0.02],[17.6,-0.01],
   [17.9,-0.01]],
  [[6.1,0.43],[6.4,0.45],[6.7,0.5],[7.0,0.56],[7.2,0.62],[7.4,0.68],[7.6,0.72],[7.9,0.72],[8.1,0.7],[8.3,0.66],
   [8.45,0.65],[8.6,0.73],[8.75,0.78],[8.9,0.72],[9.05,0.66],[9.2,0.72],[9.35,0.7],[9.5,0.72],[9.65,0.74],[9.8,0.72],
   [9.95,0.74],[10.1,0.66],[10.25,0.6],[10.45,0.65],[10.65,0.72],[10.85,0.75],[10.95,0.78],[11.1,0.7],[11.25,0.62],[11.4,0.6],
   [11.5,0.73],[11.6,0.58],[11.7,0.5],[11.8,0.6],[11.9,0.55],[12.0,0.47],[12.1,0.57],[12.25,0.5],[12.4,0.48],[12.5,0.55],
   [12.65,0.49],[12.8,0.46],[12.95,0.44],[13.1,0.55],[13.2,0.57],[13.3,0.45],[13.4,0.36],[13.55,0.4],[13.7,0.53],[13.85,0.44],
   [14.0,0.38],[14.2,0.37],[14.4,0.38],[14.55,0.47],[14.7,0.5],[14.85,0.47],[15.0,0.45],[15.2,0.5],[15.35,0.52],[15.5,0.47],
   [15.7,0.46],[15.85,0.43],[15.95,0.25],[16.05,0.22],[16.15,0.24],[16.22,0.42],[16.4,0.4],[16.7,0.37],[17.0,0.32],[17.3,0.26],
   [17.6,0.19],[17.95,0.12]],
  [[6.3,0.2],[6.5,0.23],[6.8,0.28],[7.0,0.32],[7.2,0.36],[7.4,0.4],[7.6,0.45],[7.9,0.45],[8.1,0.5],[8.3,0.52],
   [8.6,0.53],[8.9,0.52],[9.2,0.51],[9.5,0.56],[9.65,0.48],[9.8,0.52],[10.0,0.5],[10.3,0.51],[10.6,0.5],[10.8,0.52],
   [10.95,0.47],[11.1,0.53],[11.25,0.55],[11.4,0.49],[11.55,0.52],[11.7,0.56],[11.8,0.5],[11.95,0.47],[12.1,0.4],[12.25,0.43],
   [12.45,0.44],[12.6,0.47],[12.75,0.63],[12.85,0.61],[13.0,0.57],[13.1,0.53],[13.3,0.57],[13.45,0.52],[13.6,0.49],[13.8,0.5],
   [14.0,0.49],[14.3,0.47],[14.6,0.44],[14.9,0.4],[15.2,0.36],[15.5,0.32],[15.8,0.27],[16.1,0.22],[16.4,0.17],[16.7,0.11],
   [16.9,0.06],[16.98,0.03],[17.1,-0.12],[17.36,-0.42],[17.6,-0.6],[17.75,-0.42],[17.85,-0.3],[18.0,-0.18]],
  [[6.1,0.34],[6.4,0.37],[6.7,0.4],[7.0,0.44],[7.3,0.44],[7.6,0.48],[8.0,0.52],[8.3,0.53],[8.5,0.5],[8.7,0.53],
   [8.9,0.5],[9.05,0.48],[9.2,0.57],[9.35,0.5],[9.5,0.48],[9.65,0.52],[9.8,0.5],[10.0,0.54],[10.2,0.55],[10.4,0.55],
   [10.55,0.58],[10.7,0.52],[10.85,0.5],[11.0,0.62],[11.1,0.68],[11.2,0.72],[11.3,0.78],[11.45,0.72],[11.55,0.7],[11.7,0.63],
   [11.85,0.72],[11.95,0.67],[12.1,0.6],[12.25,0.66],[12.4,0.55],[12.55,0.48],[12.7,0.47],[12.85,0.52],[13.0,0.46],[13.15,0.5],
   [13.3,0.47],[13.5,0.53],[13.7,0.46],[13.85,0.4],[14.0,0.45],[14.2,0.48],[14.4,0.52],[14.6,0.5],[14.8,0.53],[15.0,0.5],
   [15.2,0.47],[15.4,0.45],[15.55,0.43],[15.7,0.35],[15.8,0.1],[15.9,0.07],[16.05,0.07],[16.15,0.28],[16.25,0.36],[16.5,0.34],
   [16.8,0.3],[17.1,0.26],[17.4,0.21],[17.7,0.16],[17.95,0.12]]
];

// Modelled clear-sky F (black), [hour, F] per panel
const modelF = [
  [[6.0,0.0],[7,0.01],[8,0.025],[9,0.035],[10,0.04],[11,0.043],[12,0.043],[13,0.04],[14,0.032],[15,0.022],[16,0.01],[17,0.0],[18,0.0]],
  [[6.0,0.0],[7,0.03],[8,0.05],[9,0.065],[10,0.072],[11,0.077],[12,0.078],[13,0.074],[14,0.065],[15,0.05],[16,0.03],[17,0.01],[17.5,0.0],[18,0.0]],
  [[6.0,0.04],[6.5,0.06],[7,0.09],[7.5,0.13],[8,0.17],[8.5,0.2],[9,0.24],[9.5,0.26],[10,0.28],[10.5,0.295],[11,0.3],[11.5,0.3],[12,0.3],
   [12.5,0.29],[13,0.27],[13.5,0.25],[14,0.22],[14.5,0.19],[15,0.15],[15.5,0.12],[16,0.08],[16.55,0.05],[16.6,0.02],[16.65,0.045],
   [17,0.03],[17.5,0.01],[18,0.01]],
  [[6.0,0.16],[6.5,0.25],[7,0.33],[7.5,0.41],[8,0.48],[8.5,0.55],[9,0.6],[9.5,0.65],[10,0.69],[10.5,0.72],[10.6,0.7],[10.8,0.71],
   [11,0.73],[11.5,0.745],[11.85,0.75],[11.87,0.64],[11.9,0.75],[12,0.75],[12.5,0.73],[13,0.7],[13.5,0.65],[14,0.59],[14.5,0.53],
   [15,0.46],[15.5,0.4],[15.97,0.35],[15.99,0.1],[16.02,0.31],[16.5,0.22],[17,0.15],[17.5,0.08],[18,0.05]],
  [[6.0,0.0],[6.3,0.01],[6.6,0.03],[7,0.07],[7.5,0.13],[8,0.19],[8.5,0.25],[9,0.3],[9.5,0.34],[10,0.37],[10.5,0.39],[11,0.4],
   [11.5,0.4],[12,0.39],[12.5,0.37],[13,0.34],[13.5,0.3],[14,0.26],[14.5,0.2],[15,0.14],[15.5,0.09],[16,0.04],[16.5,0.01],
   [17,0.0],[17.3,0.01],[17.5,0.0],[18,0.0]],
  [[6.0,0.0],[7,0.01],[8,0.02],[9,0.03],[10,0.04],[11,0.045],[12,0.045],[13,0.042],[14,0.035],[15,0.025],[16,0.012],[17,0.0],[18,0.0]],
  [[6.0,0.12],[6.5,0.2],[7,0.27],[7.5,0.34],[8,0.4],[8.5,0.46],[9,0.51],[9.5,0.55],[10,0.58],[10.5,0.61],[11,0.625],[11.5,0.63],
   [12,0.63],[12.5,0.615],[13,0.59],[13.5,0.56],[14,0.52],[14.5,0.47],[15,0.42],[15.5,0.36],[16.02,0.3],[16.05,0.03],[16.1,0.28],
   [16.5,0.23],[17,0.17],[17.5,0.1],[17.8,0.06],[18,0.05]],
  [[6.0,0.02],[6.5,0.06],[7,0.12],[7.5,0.19],[8,0.26],[8.5,0.31],[9,0.36],[9.5,0.39],[10,0.42],[10.5,0.44],[11,0.45],[11.5,0.45],
   [12,0.45],[12.5,0.44],[13,0.42],[13.5,0.39],[14,0.35],[14.5,0.3],[15,0.25],[15.5,0.19],[16,0.13],[16.5,0.07],[17,0.02],[17.5,0.0],[18,0.0]],
  [[6.0,0.13],[6.5,0.2],[7,0.27],[7.5,0.33],[8,0.38],[8.5,0.43],[9,0.47],[9.5,0.51],[10,0.54],[10.5,0.57],[11,0.59],[11.5,0.6],
   [12,0.6],[12.5,0.58],[13,0.56],[13.5,0.52],[14,0.48],[14.5,0.43],[15,0.38],[15.5,0.33],[15.8,0.3],[15.85,0.07],[16.05,0.07],
   [16.15,0.23],[16.3,0.24],[16.7,0.19],[17,0.16],[17.5,0.1],[17.8,0.06],[17.85,0.04],[18,0.05]]
];

// ---- layout of the 3x3 grid ----
const plotW = 265, plotH = 207;
const colLeft = [82, 433, 783];
const rowTop = [38, 333, 629];
const mLeft = 80, mTop = 38, mRight = 15;
const axisColor = "#262626";
const figure = document.getElementById("figure");

function addYLabel(svg) {
  const cx = 37, cy = mTop + plotH / 2;
  const text = d3.select(svg).append("text")
    .attr("transform", `translate(${cx},${cy}) rotate(-90)`)
    .attr("text-anchor", "middle")
    .attr("fill", axisColor)
    .attr("font-size", 20)
    .attr("textLength", 175)
    .attr("lengthAdjust", "spacing");
  let raised = false;
  for (const [str, sup, ital] of yLabelParts) {
    const t = text.append("tspan").text(str);
    if (sup && !raised) { t.attr("dy", -8); raised = true; }
    else if (!sup && raised) { t.attr("dy", 8); raised = false; }
    if (sup) t.attr("font-size", 15);
    if (ital) t.attr("font-style", "italic");
  }
}

function collect(hours, values, out) {
  hours.forEach((h, j) => {
    const v = values[j];
    if (v != null) out.push({hour: h, F: v});
  });
}

panelTitles.forEach((title, i) => {
  const r = Math.floor(i / 3), c = i % 3;
  const mBottom = r === 2 ? 58 : 50;

  const samples = [];
  collect(scatterHours, scatterA[i], samples);
  collect(scatterHours, scatterB[i], samples);
  collect(scatterHoursC, scatterC[i], samples);
  const smooth = smoothedF[i].map(([hour, F]) => ({hour, F}));
  const model = modelF[i].map(([hour, F]) => ({hour, F}));

  const marks = [
    Plot.dot(samples, {x: "hour", y: "F", r: 2.8, stroke: "#b6b6f4", strokeWidth: 1, clip: true}),
    Plot.line(smooth, {x: "hour", y: "F", stroke: "#0a22c8", strokeWidth: 2.2, clip: true}),
    Plot.line(model, {x: "hour", y: "F", stroke: "#000000", strokeWidth: 1.8, clip: true}),
    Plot.ruleX([xDomain[0]], {stroke: axisColor, strokeWidth: 1}),
    Plot.ruleY([yDomain[0]], {stroke: axisColor, strokeWidth: 1}),
    Plot.tickY(yTicks, {stroke: axisColor, insetRight: plotW - 3}),
    Plot.tickX(xTicks, {stroke: axisColor, insetTop: plotH - 3}),
    Plot.axisX(xTicks, {tickSize: 0, tickPadding: 10, tickFormat: d => `${d}`, label: null, fill: axisColor, fontSize: 22}),
    Plot.axisY(yTicks, {tickSize: 0, tickPadding: 5, tickFormat: d => `${d}`, label: null, fill: axisColor, fontSize: 22}),
    Plot.text([title], {frameAnchor: "top", dy: -8, lineAnchor: "bottom", text: d => d,
      fontWeight: "bold", fontSize: 22, fill: "#000000"})
  ];
  if (r === 2) {
    marks.push(Plot.text(["hour"], {frameAnchor: "bottom", dy: 52, lineAnchor: "bottom", text: d => d,
      fontSize: 22, fill: axisColor}));
  }

  const svg = Plot.plot({
    width: mLeft + plotW + mRight,
    height: mTop + plotH + mBottom,
    marginLeft: mLeft, marginRight: mRight, marginTop: mTop, marginBottom: mBottom,
    x: {domain: xDomain},
    y: {domain: yDomain},
    style: {fontFamily: "'Liberation Sans', Arial, Helvetica, sans-serif", fontSize: "22px",
      color: axisColor, background: "transparent", overflow: "visible"},
    marks
  });
  svg.style.left = `${colLeft[c] - mLeft}px`;
  svg.style.top = `${rowTop[r] - mTop}px`;
  if (c === 0) addYLabel(svg);
  figure.appendChild(svg);
});
</script>
</body>
</html>
